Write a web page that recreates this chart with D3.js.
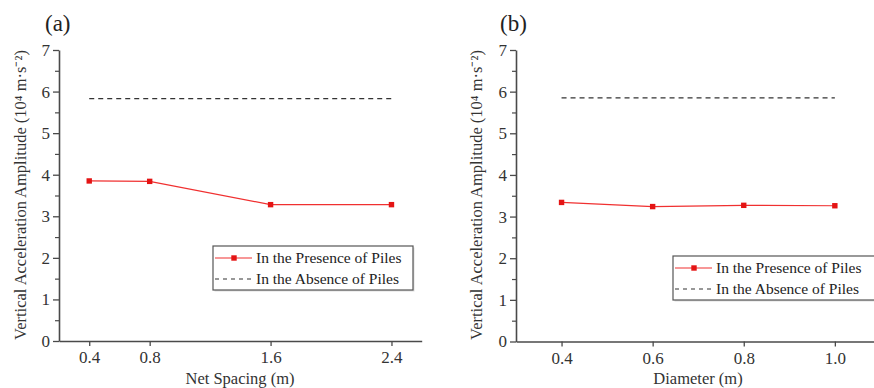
<!DOCTYPE html>
<html>
<head>
<meta charset="utf-8">
<script src="https://cdn.jsdelivr.net/npm/d3@7"></script>
<style>
  body { margin: 0; background: #fff; }
  svg { display: block; }
</style>
</head>
<body>
<div id="chart"></div>
<script>
// Panel (a) : net spacing
var spacing = [0.4, 0.8, 1.6, 2.4];
var spacingPresence = [3.85, 3.84, 3.28, 3.28];
var spacingAbsence = [5.83, 5.83, 5.83, 5.83];
var spacingTicks = [0.4, 0.8, 1.6, 2.4];

// Panel (b) : diameter
var diameter = [0.4, 0.6, 0.8, 1.0];
var diameterPresence = [3.34, 3.24, 3.27, 3.26];
var diameterAbsence = [5.85, 5.85, 5.85, 5.85];
var diameterTicks = [0.4, 0.6, 0.8, 1.0];

var yTicks = [0, 1, 2, 3, 4, 5, 6, 7];
var legendNames = ["In the Presence of Piles", "In the Absence of Piles"];
var yTitle = "Vertical Acceleration Amplitude (10\u2074 m\u00b7s\u207b\u00b2)";

var W = 874, H = 388;
var FONT = "'Liberation Serif', 'Times New Roman', serif";
var svg = d3.select("#chart").append("svg").attr("width", W).attr("height", H)
	.attr("font-family", FONT);

var axisColor = "#4a4a4a";
var red = "#f03030";

function panel(cfg){
	var g = svg.append("g");
	var x = d3.scaleLinear().domain(cfg.xDomain).range([cfg.left, cfg.right]);
	var y = d3.scaleLinear().domain([0, 7]).range([cfg.bottom, cfg.top]);

	// minor y ticks
	g.append("g")
		.attr("transform", "translate(" + cfg.left + ",0)")
		.call(d3.axisLeft(y).tickValues(d3.range(0.5, 7, 1)).tickSize(4).tickFormat(""))
		.call(function(a){ a.select(".domain").remove(); a.selectAll("line").attr("stroke", axisColor).attr("stroke-width", 1.2); });

	// y axis
	var ya = g.append("g")
		.attr("transform", "translate(" + cfg.left + ",0)")
		.call(d3.axisLeft(y).tickValues(yTicks).tickSize(6).tickSizeOuter(0).tickPadding(3).tickFormat(d3.format("d")));
	ya.attr("font-family", FONT);
	ya.select(".domain").attr("stroke", axisColor).attr("stroke-width", 1.6);
	ya.selectAll("line").attr("stroke", axisColor).attr("stroke-width", 1.3);
	ya.selectAll("text").style("font-size", "17px").attr("fill", "#333");

	// x axis
	var xa = g.append("g")
		.attr("transform", "translate(0," + cfg.bottom + ")")
		.call(d3.axisBottom(x).tickValues(cfg.ticks).tickSize(5).tickSizeOuter(0).tickPadding(5).tickFormat(d3.format(".1f")));
	xa.attr("font-family", FONT);
	xa.select(".domain").attr("stroke", axisColor).attr("stroke-width", 1.6);
	xa.selectAll("line").attr("stroke", axisColor).attr("stroke-width", 1.3);
	xa.selectAll("text").style("font-size", "17px").attr("fill", "#333");

	// absence line
	var line = d3.line().x(function(d){ return x(d[0]); }).y(function(d){ return y(d[1]); });
	g.append("path")
		.datum(d3.zip(cfg.xs, cfg.absence))
		.attr("d", line)
		.attr("fill", "none")
		.attr("stroke", "#333")
		.attr("stroke-width", 1.3)
		.attr("stroke-dasharray", "5,4");

	// presence line
	g.append("path")
		.datum(d3.zip(cfg.xs, cfg.presence))
		.attr("d", line)
		.attr("fill", "none")
		.attr("stroke", red)
		.attr("stroke-width", 1.2);
	g.selectAll(".pt")
		.data(d3.zip(cfg.xs, cfg.presence))
		.enter().append("rect")
		.attr("x", function(d){ return x(d[0]) - 2.7; })
		.attr("y", function(d){ return y(d[1]) - 2.7; })
		.attr("width", 5.4).attr("height", 5.4)
		.attr("fill", "#e41414");

	// axis titles
	g.append("text")
		.attr("transform", "translate(" + cfg.titleX + ",195) rotate(-90)")
		.attr("text-anchor", "middle")
		.style("font-size", "16.5px")
		.attr("fill", "#333")
		.text(yTitle);
	g.append("text")
		.attr("x", cfg.xTitleX).attr("y", 384)
		.attr("text-anchor", "middle")
		.style("font-size", "16.5px")
		.attr("fill", "#333")
		.text(cfg.xTitle);

	// panel label
	g.append("text")
		.attr("x", cfg.labelX).attr("y", 31)
		.style("font-size", "23px")
		.attr("fill", "#222")
		.text(cfg.label);

	// legend
	var lg = g.append("g").attr("transform", "translate(" + cfg.legX + "," + cfg.legY + ")");
	lg.append("rect")
		.attr("x", 1.5).attr("y", 1.5).attr("width", cfg.legW).attr("height", 44)
		.attr("fill", "#ddd");
	lg.append("rect")
		.attr("width", cfg.legW).attr("height", 44)
		.attr("fill", "#fff").attr("stroke", "#555").attr("stroke-width", 1.2);
	lg.append("line").attr("x1", 2).attr("x2", 39).attr("y1", 12).attr("y2", 12)
		.attr("stroke", red).attr("stroke-width", 1.2);
	lg.append("rect").attr("x", 18.3).attr("y", 9.3).attr("width", 5.4).attr("height", 5.4).attr("fill", "#e41414");
	lg.append("line").attr("x1", 2).attr("x2", 39).attr("y1", 33).attr("y2", 33)
		.attr("stroke", "#333").attr("stroke-width", 1.2).attr("stroke-dasharray", "4,4");
	lg.selectAll(".lt")
		.data(legendNames)
		.enter().append("text")
		.attr("x", 43).attr("y", function(d, i){ return 17 + i * 21; })
		.style("font-size", "15.5px")
		.attr("fill", "#222")
		.text(function(d){ return d; });
}

panel({
	xDomain: [0.2, 2.6], left: 59, right: 421.7, top: 50, bottom: 341,
	xs: spacing, presence: spacingPresence, absence: spacingAbsence, ticks: spacingTicks,
	titleX: 26, xTitleX: 240, xTitle: "Net Spacing (m)", label: "(a)", labelX: 45,
	legX: 213, legY: 246, legW: 200
});

panel({
	xDomain: [0.3, 1.1], left: 516, right: 880.4, top: 50, bottom: 341.5,
	xs: diameter, presence: diameterPresence, absence: diameterAbsence, ticks: diameterTicks,
	titleX: 482, xTitleX: 698, xTitle: "Diameter (m)", label: "(b)", labelX: 500,
	legX: 673, legY: 256, legW: 210
});
</script>
</body>
</html>
